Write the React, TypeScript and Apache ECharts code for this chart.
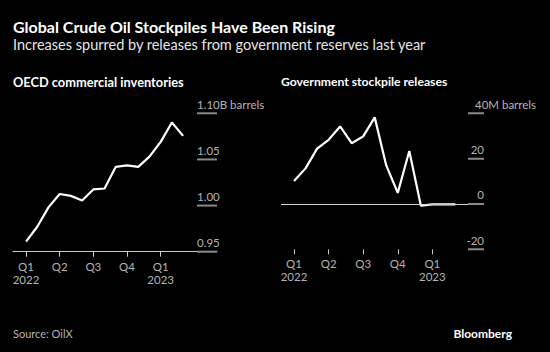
import React, { useEffect, useRef } from "react";
import * as echarts from "echarts";

// Monthly index 0 = Jan 2022 ... 14 = Mar 2023
const months: number[] = [0, 1, 2, 3, 4, 5, 6, 7, 8, 9, 10, 11, 12, 13, 14];
const oecdInventories: number[] = [
  0.961, 0.977, 0.998, 1.0125, 1.0105, 1.0055, 1.0175, 1.0185, 1.042, 1.0435,
  1.042, 1.053, 1.069, 1.09, 1.0755,
];
const govReleases: number[] = [
  10.1, 15.7, 24.4, 28.3, 34.2, 26.8, 29.8, 38.2, 17.0, 4.9, 23.4, -0.7, -0.2,
  -0.2, -0.2,
];
const quarterTicks: number[] = [0, 3, 6, 9, 12];
const quarterLabels: string[] = ["Q1\n2022", "Q2", "Q3", "Q4", "Q1\n2023"];
const leftYTicks: number[] = [0.95, 1.0, 1.05, 1.1];
const rightYTicks: number[] = [-20, 0, 20, 40];

const LABEL = "#b4b4b4";
const GRID = "#8a8a8a";
const FONT = "Lato, 'Noto Sans', sans-serif";

const L_MIN = -1.16, L_MAX = 17.02, L_TICK_START = 15.24;
const R_MIN = -1.13, R_MAX = 16.48, R_TICK_START = 15.09;

export default function App() {
  const ref = useRef<HTMLDivElement>(null);
  useEffect(() => {
    document.body.style.margin = "0";
    const chart = echarts.init(ref.current!, null, { renderer: "svg" });
    const qFmt = (v: number) => {
      const i = quarterTicks.indexOf(Math.round(v));
      return i >= 0 ? quarterLabels[i] : "";
    };
    const xMain = (gridIndex: number, min: number, max: number, showLine: boolean) => ({
      type: "value",
      gridIndex,
      min,
      max,
      splitLine: { show: false },
      axisLine: { show: showLine, onZero: false, lineStyle: { color: "#c8c8c8", width: 1 } },
      axisTick: {
        show: true,
        customValues: quarterTicks,
        length: 5,
        lineStyle: { color: "#c8c8c8" },
      },
      axisLabel: {
        customValues: quarterTicks,
        formatter: qFmt,
        color: LABEL,
        fontFamily: FONT,
        fontSize: 11.5,
        lineHeight: 13,
        margin: 8,
        align: "center",
      },
    });
    const texts = [
      {
        type: "text",
        left: 13,
        top: 18,
        style: { text: "Global Crude Oil Stockpiles Have Been Rising", fill: "#fff", font: `bold 16px ${FONT}` },
      },
      {
        type: "text",
        left: 13,
        top: 37,
        style: { text: "Increases spurred by releases from government reserves last year", fill: "#e6e6e6", font: `14.5px ${FONT}` },
      },
      {
        type: "text",
        left: 13,
        top: 75,
        style: { text: "OECD commercial inventories", fill: "#fff", font: `bold 12.8px ${FONT}` },
      },
      {
        type: "text",
        left: 281,
        top: 75,
        style: { text: "Government stockpile releases", fill: "#fff", font: `bold 12.2px ${FONT}` },
      },
      {
        type: "text",
        left: 13,
        top: 328,
        style: { text: "Source: OilX", fill: LABEL, font: `11px ${FONT}` },
      },
      {
        type: "text",
        right: 38,
        top: 327,
        style: { text: "Bloomberg", fill: "#fff", font: `bold 12px ${FONT}` },
      },
    ];
    chart.setOption({
      animation: false,
      backgroundColor: "#000",
      grid: [
        { left: 13, right: 333, top: 113.3, bottom: 100.3 },
        { left: 281, right: 66, top: 113.3, bottom: 102.7 },
      ],
      xAxis: [xMain(0, L_MIN, L_MAX, true), xMain(1, R_MIN, R_MAX, false)],
      yAxis: [
        {
          type: "value",
          gridIndex: 0,
          position: "right",
          min: 0.95,
          max: 1.1,
          interval: 0.05,
          splitLine: { show: false },
          axisLine: { show: false, onZero: false },
          axisTick: { show: false },
          axisLabel: {
            inside: true,
            margin: 20,
            align: "left",
            verticalAlign: "bottom",
            padding: [0, 0, 3, 0],
            color: LABEL,
            fontFamily: FONT,
            fontSize: 11.5,
            formatter: (v: number) => (Math.abs(v - 1.1) < 1e-6 ? "1.10B barrels" : v.toFixed(2)),
          },
        },
        {
          type: "value",
          gridIndex: 1,
          position: "right",
          min: -20,
          max: 40,
          interval: 20,
          splitLine: { show: false },
          axisLine: { show: false, onZero: false },
          axisTick: { show: false },
          axisLabel: {
            inside: true,
            margin: 16,
            align: "left",
            verticalAlign: "bottom",
            padding: [0, 0, 3, 0],
            color: LABEL,
            fontFamily: FONT,
            fontSize: 11.5,
            formatter: (v: number) => (v === 40 ? "{t|40M barrels}" : `{n|${v}}`),
            rich: {
              n: { width: 16, align: "right", color: LABEL, fontFamily: FONT, fontSize: 11.5 },
              t: { padding: [0, 0, 0, 7], color: LABEL, fontFamily: FONT, fontSize: 11.5 },
            },
          },
        },
      ],
      series: [
        {
          type: "line",
          xAxisIndex: 0,
          yAxisIndex: 0,
          data: months.map((m, i) => [m, oecdInventories[i]]),
          symbol: "none",
          lineStyle: { color: "#fff", width: 2.2 },
        },
        {
          type: "line",
          xAxisIndex: 1,
          yAxisIndex: 1,
          data: months.map((m, i) => [m, govReleases[i]]),
          symbol: "none",
          lineStyle: { color: "#fff", width: 2.2 },
          markLine: {
            silent: true,
            symbol: "none",
            label: { show: false },
            data: [
              [
                { coord: [R_MIN, 0], lineStyle: { color: "#d0d0d0", width: 1.2, type: "solid" } },
                { coord: [R_MAX, 0] },
              ],
            ],
          },
        },
      ],
      graphic: texts,
    });

    // Short tick-gridlines beside the labels, drawn as thin filled rects positioned through the axes' scales
    const px = (xi: number, x: number, y: number) =>
      chart.convertToPixel({ xAxisIndex: xi, yAxisIndex: xi } as any, [x, y]) as number[];
    const mkBars = (xi: number, ticks: number[], x0: number, x1: number) =>
      ticks.map((v) => {
        const a = px(xi, x0, v);
        const b = px(xi, x1, v);
        return {
          type: "rect",
          silent: true,
          z: 100,
          shape: { x: a[0], y: a[1] - 1, width: b[0] - a[0], height: 2 },
          style: { fill: GRID },
        };
      });
    chart.setOption({
      graphic: [
        ...texts,
        ...mkBars(0, leftYTicks, L_TICK_START, L_MAX),
        ...mkBars(1, rightYTicks, R_TICK_START, R_MAX),
      ],
    });
    return () => chart.dispose();
  }, []);
  return (
    <div
      ref={ref}
      style={{ position: "fixed", left: 0, top: 0, width: 550, height: 352, background: "#000" }}
    />
  );
}
